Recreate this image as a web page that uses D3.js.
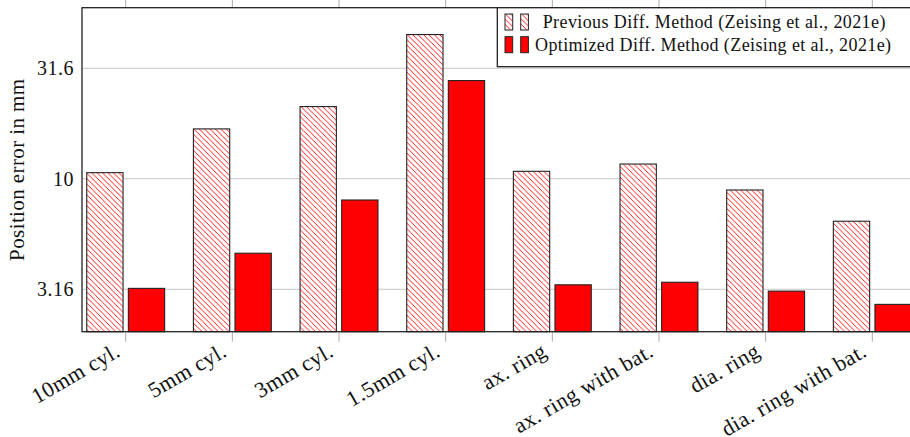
<!DOCTYPE html>
<head>
	<script src="https://d3js.org/d3.v7.min.js"></script>
</head>
<style>
body {
    margin: 0;
    background: #fff;
}
text {
    font-family: "Liberation Serif", "Times New Roman", serif;
    fill: #111;
}
</style>
<body>
<script>
	// chart values
	var categories = ["10mm cyl.", "5mm cyl.", "3mm cyl.", "1.5mm cyl.", "ax. ring",
	                  "ax. ring with bat.", "dia. ring", "dia. ring with bat."];
	var previousValues = [10.65, 16.8, 21.2, 44.9, 10.8, 11.65, 8.89, 6.42];
	var optimizedValues = [3.19, 4.60, 8.01, 27.8, 3.31, 3.40, 3.10, 2.70];
	var yTicks = [3.16, 10, 31.6];
	var yTickLabels = ["3.16", "10", "31.6"];
	var seriesNames = ["Previous Diff. Method (Zeising et al., 2021e)",
	                   "Optimized Diff. Method (Zeising et al., 2021e)"];

	var width = 910;
	var height = 437;

	// plot box (right side runs off the page, as in the original)
	var plotLeft = 82, plotRight = 922, plotTop = 7.7, plotBottom = 331.7;
	var barW = 36.3, gap = 2.65;

	var svg = d3.select("body")
	    .append("svg")
	    .attr("width", width)
	    .attr("height", height);

	// hatch pattern (north west lines)
	var hs = 5.4;
	var defs = svg.append("defs");
	var pat = defs.append("pattern")
	    .attr("id", "hatch")
	    .attr("patternUnits", "userSpaceOnUse")
	    .attr("width", hs)
	    .attr("height", hs);
	pat.append("rect")
	    .attr("width", hs)
	    .attr("height", hs)
	    .attr("fill", "#fff");
	pat.append("path")
	    .attr("d", "M-1,-1 L" + (hs + 1) + "," + (hs + 1) +
	               " M-1," + (hs - 1) + " L1," + (hs + 1) +
	               " M" + (hs - 1) + ",-1 L" + (hs + 1) + ",1")
	    .attr("stroke", "#ff0000")
	    .attr("stroke-width", 0.9);

	// scales
	var x = d3.scalePoint()
	    .domain(categories)
	    .range([125.7, 872.3]);

	var y = d3.scaleLog()
	    .domain([2.031, 59.4])
	    .range([plotBottom, plotTop]);

	// grid lines
	svg.append("g")
	    .selectAll("line")
	    .data(yTicks)
	    .enter()
	    .append("line")
	    .attr("x1", plotLeft)
	    .attr("x2", plotRight)
	    .attr("y1", function(d) { return y(d); })
	    .attr("y2", function(d) { return y(d); })
	    .attr("stroke", "#c8c8c8")
	    .attr("stroke-width", 1);

	// category tick marks, top and bottom (outside)
	var ticks = svg.append("g");
	ticks.selectAll(".tb")
	    .data(categories)
	    .enter()
	    .append("line")
	    .attr("x1", function(d) { return x(d); })
	    .attr("x2", function(d) { return x(d); })
	    .attr("y1", plotBottom)
	    .attr("y2", plotBottom + 10)
	    .attr("stroke", "#aaa");
	ticks.selectAll(".tt")
	    .data(categories)
	    .enter()
	    .append("line")
	    .attr("x1", function(d) { return x(d); })
	    .attr("x2", function(d) { return x(d); })
	    .attr("y1", 0)
	    .attr("y2", plotTop)
	    .attr("stroke", "#aaa");

	// bars
	var bars = svg.append("g");
	bars.selectAll(".prev")
	    .data(previousValues)
	    .enter()
	    .append("rect")
	    .attr("x", function(d, i) { return x(categories[i]) - gap - barW; })
	    .attr("y", function(d) { return y(d); })
	    .attr("width", barW)
	    .attr("height", function(d) { return plotBottom - y(d); })
	    .attr("fill", "url(#hatch)")
	    .attr("stroke", "#222")
	    .attr("stroke-width", 1.1);

	bars.selectAll(".opt")
	    .data(optimizedValues)
	    .enter()
	    .append("rect")
	    .attr("x", function(d, i) { return x(categories[i]) + gap; })
	    .attr("y", function(d) { return y(d); })
	    .attr("width", barW)
	    .attr("height", function(d) { return plotBottom - y(d); })
	    .attr("fill", "#ff0000")
	    .attr("stroke", "#222")
	    .attr("stroke-width", 1.1);

	// frame
	svg.append("rect")
	    .attr("x", plotLeft)
	    .attr("y", plotTop)
	    .attr("width", plotRight - plotLeft)
	    .attr("height", plotBottom - plotTop)
	    .attr("fill", "none")
	    .attr("stroke", "#222")
	    .attr("stroke-width", 1.3);

	// y tick labels
	svg.append("g")
	    .selectAll("text")
	    .data(yTicks)
	    .enter()
	    .append("text")
	    .attr("x", 74)
	    .attr("y", function(d) { return y(d); })
	    .attr("dy", "0.35em")
	    .attr("text-anchor", "end")
	    .style("font-size", "20px")
	    .style("letter-spacing", "0.5px")
	    .text(function(d, i) { return yTickLabels[i]; });

	// x tick labels, rotated
	svg.append("g")
	    .selectAll("text")
	    .data(categories)
	    .enter()
	    .append("text")
	    .attr("text-anchor", "end")
	    .attr("dy", "0.35em")
	    .attr("transform", function(d) {
	        return "translate(" + (x(d) - 8) + "," + (plotBottom + 17) + ") rotate(-30)";
	    })
	    .style("font-size", "22px")
	    .style("letter-spacing", "0.4px")
	    .text(function(d) { return d; });

	// y axis label
	svg.append("text")
	    .attr("transform", "translate(24," + ((plotTop + plotBottom) / 2) + ") rotate(-90)")
	    .attr("text-anchor", "middle")
	    .style("font-size", "21px")
	    .style("letter-spacing", "0.4px")
	    .text("Position error in mm");

	// legend
	var legend = svg.append("g");
	legend.append("rect")
	    .attr("x", 497.3)
	    .attr("y", plotTop)
	    .attr("width", 430)
	    .attr("height", 59)
	    .attr("fill", "#fff")
	    .attr("stroke", "#222")
	    .attr("stroke-width", 1.3);

	var legendFills = ["url(#hatch)", "#ff0000"];
	var legendRows = [14, 36.7];
	var legendTextX = [542.7, 535];
	seriesNames.forEach(function(name, i) {
	    [505, 520.7].forEach(function(lx) {
	        legend.append("rect")
	            .attr("x", lx)
	            .attr("y", legendRows[i])
	            .attr("width", 7.7)
	            .attr("height", 16)
	            .attr("fill", legendFills[i])
	            .attr("stroke", "#222")
	            .attr("stroke-width", 1);
	    });
	    legend.append("text")
	        .attr("x", legendTextX[i])
	        .attr("y", legendRows[i] + 8)
	        .attr("dy", "0.35em")
	        .style("font-size", "18px")
	        .style("letter-spacing", "0.4px")
	        .text(name);
	});
</script>
</body>
</html>
